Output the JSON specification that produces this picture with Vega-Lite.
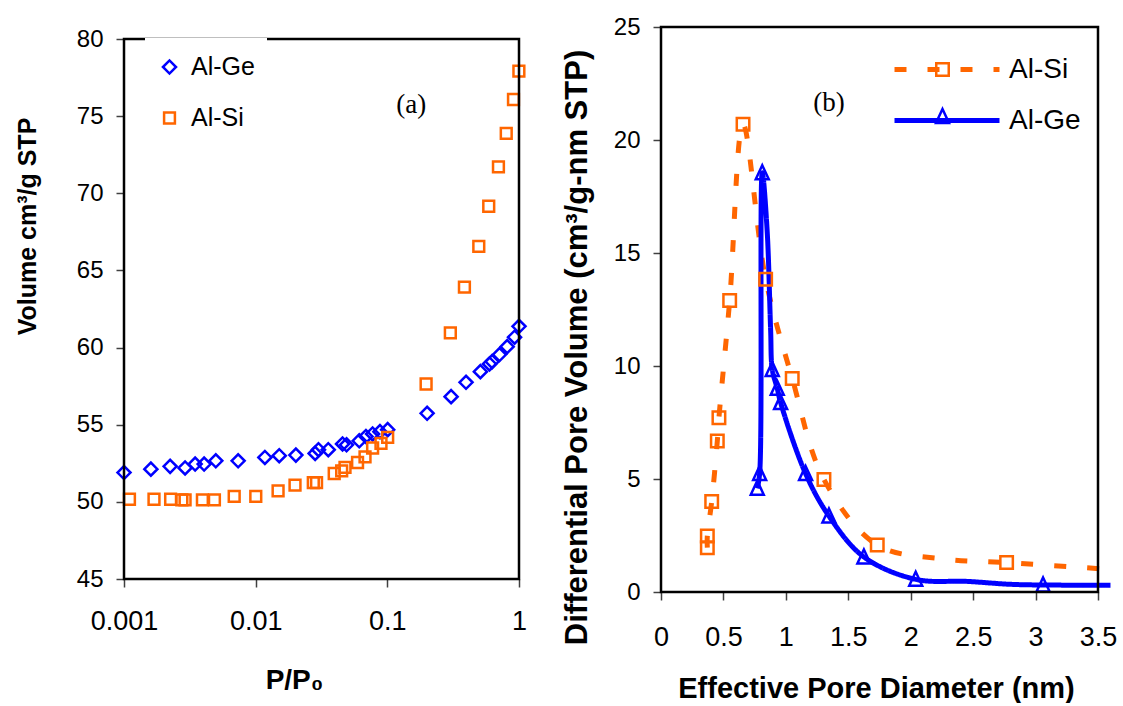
{
  "$schema": "https://vega.github.io/schema/vega-lite/v6.json",
  "background": "white",
  "padding": {"left": 15, "top": 15, "right": 0, "bottom": 0},
  "bounds": "flush",
  "spacing": 142,
  "config": {
    "view": {"stroke": null},
    "font": "Liberation Sans",
    "axis": {"grid": false, "domain": false, "tickColor": "#404040", "tickWidth": 1.5, "tickSize": 8, "labelColor": "black", "titleColor": "black", "labelFont": "Liberation Sans", "titleFont": "Liberation Sans", "titleFontWeight": "bold"},
    "legend": {"labelFont": "Liberation Sans", "labelColor": "black"}
  },
  "resolve": {"scale": {"color": "independent", "shape": "independent", "stroke": "independent", "strokeDash": "independent", "size": "independent"}},
  "hconcat": [
    {
      "width": 395,
      "height": 552,
      "layer": [
        {
          "data": {"values": [
            {"p": 0.001, "v": 51.9, "s": "Al-Ge"}, {"p": 0.0016, "v": 52.12, "s": "Al-Ge"}, {"p": 0.00224, "v": 52.3, "s": "Al-Ge"}, {"p": 0.00291, "v": 52.2, "s": "Al-Ge"}, {"p": 0.00347, "v": 52.45, "s": "Al-Ge"}, {"p": 0.00406, "v": 52.45, "s": "Al-Ge"}, {"p": 0.00498, "v": 52.66, "s": "Al-Ge"}, {"p": 0.00736, "v": 52.66, "s": "Al-Ge"}, {"p": 0.01175, "v": 52.88, "s": "Al-Ge"}, {"p": 0.0151, "v": 52.99, "s": "Al-Ge"}, {"p": 0.0202, "v": 53.03, "s": "Al-Ge"}, {"p": 0.0283, "v": 53.14, "s": "Al-Ge"}, {"p": 0.03, "v": 53.38, "s": "Al-Ge"}, {"p": 0.0356, "v": 53.38, "s": "Al-Ge"}, {"p": 0.0457, "v": 53.75, "s": "Al-Ge"}, {"p": 0.049, "v": 53.7, "s": "Al-Ge"}, {"p": 0.0612, "v": 53.96, "s": "Al-Ge"}, {"p": 0.0688, "v": 54.24, "s": "Al-Ge"}, {"p": 0.0773, "v": 54.4, "s": "Al-Ge"}, {"p": 0.0879, "v": 54.55, "s": "Al-Ge"}, {"p": 0.1006, "v": 54.68, "s": "Al-Ge"}, {"p": 0.2005, "v": 55.74, "s": "Al-Ge"}, {"p": 0.305, "v": 56.82, "s": "Al-Ge"}, {"p": 0.396, "v": 57.75, "s": "Al-Ge"}, {"p": 0.509, "v": 58.44, "s": "Al-Ge"}, {"p": 0.597, "v": 58.94, "s": "Al-Ge"}, {"p": 0.625, "v": 59.09, "s": "Al-Ge"}, {"p": 0.711, "v": 59.55, "s": "Al-Ge"}, {"p": 0.813, "v": 60.06, "s": "Al-Ge"}, {"p": 0.925, "v": 60.67, "s": "Al-Ge"}, {"p": 1.0, "v": 61.38, "s": "Al-Ge"},
            {"p": 0.0011, "v": 50.17, "s": "Al-Si"}, {"p": 0.00169, "v": 50.17, "s": "Al-Si"}, {"p": 0.00226, "v": 50.17, "s": "Al-Si"}, {"p": 0.00275, "v": 50.13, "s": "Al-Si"}, {"p": 0.00291, "v": 50.13, "s": "Al-Si"}, {"p": 0.00394, "v": 50.13, "s": "Al-Si"}, {"p": 0.00486, "v": 50.13, "s": "Al-Si"}, {"p": 0.00687, "v": 50.35, "s": "Al-Si"}, {"p": 0.01002, "v": 50.35, "s": "Al-Si"}, {"p": 0.0148, "v": 50.71, "s": "Al-Si"}, {"p": 0.0199, "v": 51.08, "s": "Al-Si"}, {"p": 0.0274, "v": 51.25, "s": "Al-Si"}, {"p": 0.029, "v": 51.25, "s": "Al-Si"}, {"p": 0.0395, "v": 51.84, "s": "Al-Si"}, {"p": 0.045, "v": 52.01, "s": "Al-Si"}, {"p": 0.0477, "v": 52.23, "s": "Al-Si"}, {"p": 0.0594, "v": 52.55, "s": "Al-Si"}, {"p": 0.0677, "v": 52.92, "s": "Al-Si"}, {"p": 0.0773, "v": 53.49, "s": "Al-Si"}, {"p": 0.0895, "v": 53.79, "s": "Al-Si"}, {"p": 0.1006, "v": 54.18, "s": "Al-Si"}, {"p": 0.197, "v": 57.64, "s": "Al-Si"}, {"p": 0.301, "v": 60.95, "s": "Al-Si"}, {"p": 0.385, "v": 63.92, "s": "Al-Si"}, {"p": 0.495, "v": 66.56, "s": "Al-Si"}, {"p": 0.589, "v": 69.16, "s": "Al-Si"}, {"p": 0.698, "v": 71.71, "s": "Al-Si"}, {"p": 0.8, "v": 73.88, "s": "Al-Si"}, {"p": 0.908, "v": 76.08, "s": "Al-Si"}, {"p": 0.998, "v": 77.92, "s": "Al-Si"}
          ]},
          "mark": {"type": "point", "filled": false, "strokeWidth": 2.5, "opacity": 1},
          "encoding": {
            "x": {"field": "p", "type": "quantitative", "scale": {"type": "log", "domain": [0.001, 1], "nice": false},
              "axis": {"values": [0.001, 0.01, 0.1, 1], "format": "~g", "labelFontSize": 27, "labelPadding": 21, "labelFlush": false, "title": "P/P₀", "titleFontSize": 28, "titleX": 170, "titleY": 101, "titleBaseline": "middle"}},
            "y": {"field": "v", "type": "quantitative", "scale": {"domain": [45, 80], "range": [552, 12], "nice": false, "zero": false},
              "axis": {"values": [45, 50, 55, 60, 65, 70, 75, 80], "labelFontSize": 24, "labelPadding": 13, "title": "Volume cm³/g STP", "titleFontSize": 25, "titleX": -97, "titleY": 199, "titleBaseline": "middle"}},
            "color": {"field": "s", "type": "nominal", "scale": {"domain": ["Al-Ge", "Al-Si"], "range": ["#0000FF", "#FF6600"]},
              "legend": {"title": null, "orient": "none", "legendX": 21, "legendY": 11, "fillColor": "white", "padding": 12, "labelFontSize": 25, "symbolSize": 150, "symbolStrokeWidth": 2.5, "clipHeight": 34, "rowPadding": 17, "labelOffset": 9}},
            "shape": {"field": "s", "type": "nominal", "scale": {"domain": ["Al-Ge", "Al-Si"], "range": ["diamond", "square"]},
              "legend": {"title": null, "orient": "none", "legendX": 21, "legendY": 11, "fillColor": "white", "padding": 12, "labelFontSize": 25, "symbolSize": 150, "symbolStrokeWidth": 2.5, "clipHeight": 34, "rowPadding": 17, "labelOffset": 9}},
            "size": {"field": "s", "type": "nominal", "scale": {"domain": ["Al-Ge", "Al-Si"], "range": [170, 117]}, "legend": null}
          }
        },
        {
          "data": {"values": [{"k": "frame"}]},
          "mark": {"type": "rect", "fill": null, "stroke": "black", "strokeWidth": 2.5},
          "encoding": {
            "x": {"datum": 0.001, "type": "quantitative"},
            "x2": {"datum": 1},
            "y": {"datum": 45, "type": "quantitative"},
            "y2": {"datum": 80}
          }
        },
        {
          "data": {"values": [{"t": "(a)"}]},
          "mark": {"type": "text", "font": "Liberation Serif", "fontSize": 27, "align": "center", "baseline": "middle", "color": "black"},
          "encoding": {
            "x": {"datum": 0.152, "type": "quantitative"},
            "y": {"datum": 75.7, "type": "quantitative"},
            "text": {"field": "t"}
          }
        }
      ]
    },
    {
      "width": 437,
      "height": 565,
      "layer": [
        {
          "data": {"values": [
            {"d": 0.371, "v": 1.96, "s": "Al-Si", "m": 1}, {"d": 0.371, "v": 2.48, "s": "Al-Si", "m": 1}, {"d": 0.406, "v": 4.0, "s": "Al-Si", "m": 1}, {"d": 0.451, "v": 6.68, "s": "Al-Si", "m": 1}, {"d": 0.464, "v": 7.71, "s": "Al-Si", "m": 1}, {"d": 0.55, "v": 12.9, "s": "Al-Si", "m": 1}, {"d": 0.657, "v": 20.7, "s": "Al-Si", "m": 1}, {"d": 0.838, "v": 13.84, "s": "Al-Si", "m": 1}, {"d": 1.051, "v": 9.45, "s": "Al-Si", "m": 1}, {"d": 1.305, "v": 4.98, "s": "Al-Si", "m": 1}, {"d": 1.732, "v": 2.08, "s": "Al-Si", "m": 1}, {"d": 2.25, "v": 1.47, "s": "Al-Si", "m": 0}, {"d": 2.768, "v": 1.3, "s": "Al-Si", "m": 1}, {"d": 3.6, "v": 1.0, "s": "Al-Si", "m": 0},
            {"d": 0.771, "v": 4.59, "s": "Al-Ge", "m": 1}, {"d": 0.79, "v": 5.24, "s": "Al-Ge", "m": 1}, {"d": 0.811, "v": 18.55, "s": "Al-Ge", "m": 1}, {"d": 0.85, "v": 16.0, "s": "Al-Ge", "m": 0}, {"d": 0.878, "v": 11.6, "s": "Al-Ge", "m": 0}, {"d": 0.891, "v": 9.85, "s": "Al-Ge", "m": 1}, {"d": 0.931, "v": 9.01, "s": "Al-Ge", "m": 1}, {"d": 0.958, "v": 8.38, "s": "Al-Ge", "m": 1}, {"d": 1.158, "v": 5.24, "s": "Al-Ge", "m": 1}, {"d": 1.345, "v": 3.36, "s": "Al-Ge", "m": 1}, {"d": 1.625, "v": 1.55, "s": "Al-Ge", "m": 1}, {"d": 2.04, "v": 0.56, "s": "Al-Ge", "m": 1}, {"d": 2.45, "v": 0.47, "s": "Al-Ge", "m": 0}, {"d": 2.8, "v": 0.34, "s": "Al-Ge", "m": 0}, {"d": 3.06, "v": 0.31, "s": "Al-Ge", "m": 1}, {"d": 3.6, "v": 0.3, "s": "Al-Ge", "m": 0}
          ]},
          "layer": [
            {
              "mark": {"type": "line", "interpolate": "catmull-rom", "strokeWidth": 5, "clip": false, "strokeCap": "butt"},
              "encoding": {
                "x": {"field": "d", "type": "quantitative", "scale": {"domain": [0, 3.5], "nice": false, "zero": false},
                  "axis": {"values": [0, 0.5, 1, 1.5, 2, 2.5, 3, 3.5], "format": "~g", "labelFontSize": 27, "labelPadding": 24, "labelFlush": false, "title": "Effective Pore Diameter (nm)", "titleFontSize": 29, "titleX": 215, "titleY": 96, "titleBaseline": "middle"}},
                "y": {"field": "v", "type": "quantitative", "scale": {"domain": [0, 25], "nice": false},
                  "axis": {"values": [0, 5, 10, 15, 20, 25], "labelFontSize": 24, "labelPadding": 13, "title": "Differential Pore Volume (cm³/g-nm STP)", "titleFontSize": 31, "titleX": -84, "titleY": 320, "titleBaseline": "middle"}},
                "stroke": {"field": "s", "type": "nominal", "scale": {"domain": ["Al-Si", "Al-Ge"], "range": ["#FF6600", "#0000FF"]},
                  "legend": {"title": null, "orient": "none", "legendX": 231, "legendY": 30, "symbolType": "stroke", "symbolSize": 11025, "symbolStrokeWidth": 5, "labelFontSize": 28, "labelOffset": 7, "clipHeight": 25, "rowPadding": 22, "padding": 0}},
                "strokeDash": {"field": "s", "type": "nominal", "scale": {"domain": ["Al-Si", "Al-Ge"], "range": [[12, 21], [1, 0]]},
                  "legend": {"title": null, "orient": "none", "legendX": 231, "legendY": 30, "symbolType": "stroke", "symbolSize": 11025, "symbolStrokeWidth": 5, "labelFontSize": 28, "labelOffset": 7, "clipHeight": 25, "rowPadding": 22, "padding": 0}}
              }
            },
            {
              "transform": [{"filter": "datum.m == 1"}],
              "mark": {"type": "point", "filled": false, "strokeWidth": 2.5, "opacity": 1},
              "encoding": {
                "x": {"field": "d", "type": "quantitative"},
                "y": {"field": "v", "type": "quantitative"},
                "color": {"field": "s", "type": "nominal", "sort": "descending", "scale": {"range": ["#FF6600", "#0000FF"]},
                  "legend": {"title": null, "orient": "none", "legendX": 273, "legendY": 30, "symbolSize": 170, "symbolStrokeWidth": 2.5, "labelExpr": "''", "clipHeight": 25, "rowPadding": 22, "padding": 0}},
                "shape": {"field": "s", "type": "nominal", "sort": "descending", "scale": {"range": ["square", "M0,-1.1L0.95,0.95L-0.95,0.95Z"]},
                  "legend": {"title": null, "orient": "none", "legendX": 273, "legendY": 30, "symbolSize": 170, "symbolStrokeWidth": 2.5, "labelExpr": "''", "clipHeight": 25, "rowPadding": 22, "padding": 0}},
                "size": {"field": "s", "type": "nominal", "sort": "descending", "scale": {"range": [156, 187]}, "legend": null}
              }
            }
          ]
        },
        {
          "data": {"values": [{"k": "frame"}]},
          "mark": {"type": "rect", "fill": null, "stroke": "black", "strokeWidth": 2.5},
          "encoding": {
            "x": {"datum": 0, "type": "quantitative"},
            "x2": {"datum": 3.5},
            "y": {"datum": 0, "type": "quantitative"},
            "y2": {"datum": 25}
          }
        },
        {
          "data": {"values": [{"t": "(b)"}]},
          "mark": {"type": "text", "font": "Liberation Serif", "fontSize": 27, "align": "center", "baseline": "middle", "color": "black"},
          "encoding": {
            "x": {"datum": 1.345, "type": "quantitative"},
            "y": {"datum": 21.64, "type": "quantitative"},
            "text": {"field": "t"}
          }
        }
      ]
    }
  ]
}
